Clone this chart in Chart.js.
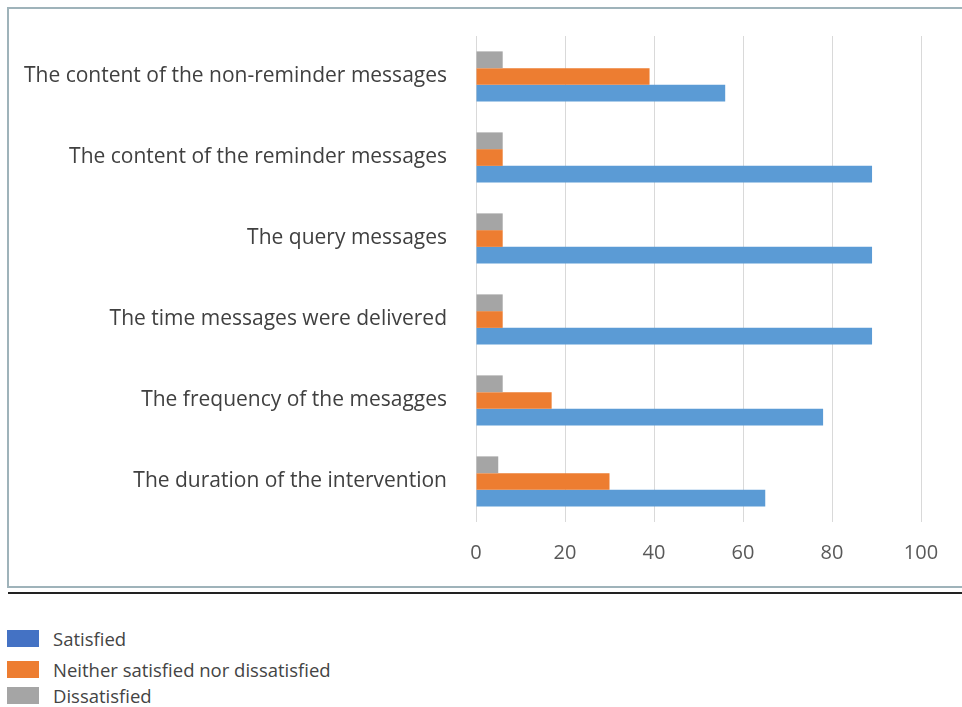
<!DOCTYPE html>
<html>
<head>
<meta charset="utf-8">
<script src="https://cdn.jsdelivr.net/npm/chart.js@4.4.1/dist/chart.umd.min.js"></script>
<style>
  html, body { margin: 0; padding: 0; background: #fff; overflow: hidden; }
  body { width: 962px; height: 707px; position: relative; font-family: 'Open Sans', sans-serif; }
  #laatikko {
    position: absolute; left: 7px; top: 7px; width: 970px; height: 581px;
    border: 2px solid #9fb3ba; box-sizing: border-box;
  }
  #kaavio-alue { position: absolute; left: 10px; top: 10px; width: 952px; height: 575px; }
  #viiva { position: absolute; left: 8px; top: 592px; width: 954px; height: 2px; background: #222; }
  .selite { position: absolute; left: 7px; height: 17px; display: flex; align-items: center; font-size: 18.5px; color: #444; }
  .selite span.laatta { display: inline-block; width: 32px; height: 17px; margin-right: 14px; flex: none; }
</style>
</head>
<body>
<div id="laatikko"></div>
<div id="kaavio-alue"><canvas id="palkit"></canvas></div>
<div id="viiva"></div>
<div id="selite"></div>
<script>
// aineisto kuvasta luettuna
const kategoriat = [
  'The content of the non-reminder messages',
  'The content of the reminder messages',
  'The query messages',
  'The time messages were delivered',
  'The frequency of the mesagges',
  'The duration of the intervention'
];
const tyytymattomat = [6, 6, 6, 6, 6, 5];
const neutraalit = [39, 6, 6, 6, 17, 30];
const tyytyvaiset = [56, 89, 89, 89, 78, 65];
const asteikko = [0, 20, 40, 60, 80, 100];

const sarjat = [
  { label: 'Satisfied', data: tyytyvaiset, vari: '#5b9bd5', selite: '#4472c4' },
  { label: 'Neither satisfied nor dissatisfied', data: neutraalit, vari: '#ed7d31', selite: '#ed7d31' },
  { label: 'Dissatisfied', data: tyytymattomat, vari: '#a5a5a5', selite: '#a5a5a5' }
];

// selite kuvan alle
const seliteY = [630, 661, 687];
const seliteDiv = document.getElementById('selite');
sarjat.forEach((s, i) => {
  const d = document.createElement('div');
  d.className = 'selite';
  d.style.top = seliteY[i] + 'px';
  d.innerHTML = '<span class="laatta" style="background:' + s.selite + '"></span>' + s.label;
  seliteDiv.appendChild(d);
});

// harmaa ylimpänä, sininen alimpana
const piirtoJarjestys = [sarjat[2], sarjat[1], sarjat[0]];

new Chart(document.getElementById('palkit'), {
  type: 'bar',
  data: {
    labels: kategoriat,
    datasets: piirtoJarjestys.map(s => ({
      label: s.label,
      data: s.data,
      backgroundColor: s.vari,
      borderWidth: 0,
      categoryPercentage: 0.62,
      barPercentage: 1.0
    }))
  },
  options: {
    indexAxis: 'y',
    responsive: true,
    maintainAspectRatio: false,
    animation: false,
    layout: { padding: { top: 26, right: 41, bottom: 0, left: 0 } },
    plugins: {
      legend: { display: false },
      tooltip: { enabled: false }
    },
    scales: {
      x: {
        min: 0,
        max: 100,
        afterBuildTicks: (axis) => { axis.ticks = asteikko.map(v => ({ value: v })); },
        afterFit: (axis) => { axis.height = 63; },
        grid: { color: '#d9d9d9', lineWidth: 1, drawTicks: false },
        border: { display: false },
        ticks: {
          color: '#595959',
          padding: 19,
          font: { family: 'Open Sans', size: 20 }
        }
      },
      y: {
        grid: { display: false, drawTicks: false },
        border: { display: false },
        afterFit: (axis) => {
          axis.width = 466;
          axis.paddingTop = 0;
          axis.paddingBottom = 0;
        },
        ticks: {
          color: '#404040',
          padding: 29,
          font: { family: 'Open Sans', size: 21 }
        }
      }
    }
  }
});
</script>
</body>
</html>
